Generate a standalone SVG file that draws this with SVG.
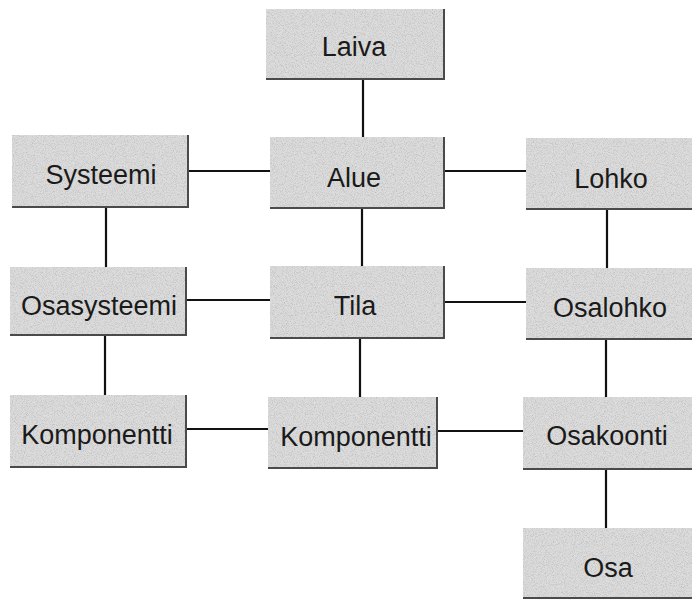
<svg xmlns="http://www.w3.org/2000/svg" width="693" height="599" viewBox="0 0 693 599">
<defs>
<filter id="grain" x="0" y="0" width="100%" height="100%">
<feTurbulence type="fractalNoise" baseFrequency="1.1" numOctaves="2" seed="3" result="n"/>
<feColorMatrix in="n" type="matrix" values="0 0 0 0 0.5  0 0 0 0 0.5  0 0 0 0 0.5  0 0 0 2.2 -0.95" result="dots"/>
<feComposite in="dots" in2="SourceGraphic" operator="in" result="d2"/>
<feMerge><feMergeNode in="SourceGraphic"/><feMergeNode in="d2"/></feMerge>
</filter>
</defs>
<style>
.box{fill:#dcdcdc;filter:url(#grain)}
.edge{fill:none;stroke:#4a4a4a;stroke-width:2}
.lbl{font-family:"Liberation Sans",Arial,sans-serif;font-size:27px;fill:#1a1a1a;text-anchor:middle}
.con line{stroke:#111;stroke-width:2.2}
</style>
<rect width="693" height="599" fill="#ffffff"/>
<g id="connectors" class="con">
<line x1="363" y1="79" x2="363" y2="137"/>
<line x1="188" y1="171" x2="270" y2="171"/>
<line x1="444" y1="171" x2="526" y2="171"/>
<line x1="106" y1="207" x2="106" y2="267"/>
<line x1="362" y1="208" x2="362" y2="266"/>
<line x1="607" y1="209" x2="607" y2="268"/>
<line x1="186" y1="300" x2="270" y2="300"/>
<line x1="444" y1="302" x2="526" y2="302"/>
<line x1="105" y1="335" x2="105" y2="395"/>
<line x1="360" y1="338" x2="360" y2="397"/>
<line x1="606" y1="339" x2="606" y2="397"/>
<line x1="186" y1="429" x2="268" y2="429"/>
<line x1="437" y1="431" x2="523" y2="431"/>
<line x1="606" y1="469" x2="606" y2="528"/>
</g>
<g id="laiva"><rect class="box" x="266" y="9" width="178" height="70"/><polyline class="edge" points="266,79 444,79 444,9"/><text class="lbl" x="354" y="56">Laiva</text></g>
<g id="systeemi"><rect class="box" x="12" y="135" width="176" height="72"/><polyline class="edge" points="12,207 188,207 188,135"/><text class="lbl" x="101" y="184">Systeemi</text></g>
<g id="alue"><rect class="box" x="270" y="137" width="174" height="71"/><polyline class="edge" points="270,208 444,208 444,137"/><text class="lbl" x="354" y="187">Alue</text></g>
<g id="lohko"><rect class="box" x="526" y="138" width="166" height="71"/><polyline class="edge" points="526,209 692,209"/><text class="lbl" x="611" y="188">Lohko</text></g>
<g id="osasysteemi"><rect class="box" x="10" y="267" width="176" height="68"/><polyline class="edge" points="10,335 186,335 186,267"/><text class="lbl" x="99" y="315">Osasysteemi</text></g>
<g id="tila"><rect class="box" x="270" y="266" width="174" height="72"/><polyline class="edge" points="270,338 444,338 444,266"/><text class="lbl" x="355" y="315">Tila</text></g>
<g id="osalohko"><rect class="box" x="526" y="268" width="166" height="71"/><polyline class="edge" points="526,339 692,339"/><text class="lbl" x="610" y="317">Osalohko</text></g>
<g id="komponentti1"><rect class="box" x="10" y="395" width="176" height="72"/><polyline class="edge" points="10,467 186,467 186,395"/><text class="lbl" x="97" y="444">Komponentti</text></g>
<g id="komponentti2"><rect class="box" x="268" y="397" width="169" height="71"/><polyline class="edge" points="268,468 437,468 437,397"/><text class="lbl" x="356" y="446">Komponentti</text></g>
<g id="osakoonti"><rect class="box" x="523" y="397" width="169" height="72"/><polyline class="edge" points="523,469 692,469"/><text class="lbl" x="607" y="445">Osakoonti</text></g>
<g id="osa"><rect class="box" x="523" y="528" width="169" height="70"/><polyline class="edge" points="523,598 692,598"/><text class="lbl" x="608" y="577">Osa</text></g>
</svg>
